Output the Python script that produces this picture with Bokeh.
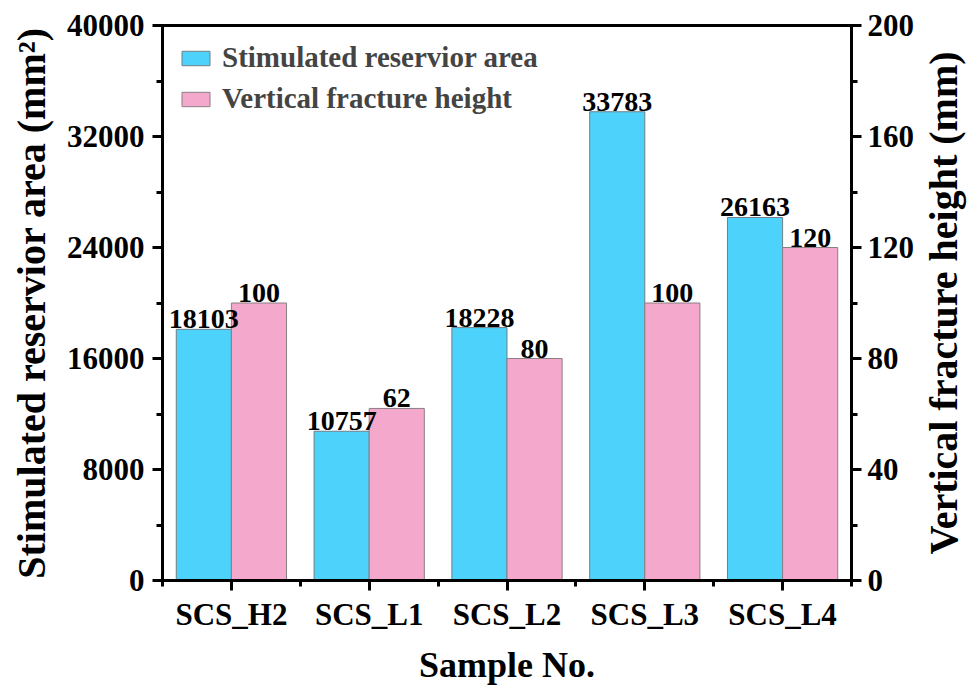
import numpy as np
from bokeh.plotting import figure
from bokeh.layouts import row
from bokeh.models import (Range1d, LinearAxis, SingleIntervalTicker, FixedTicker,
                          ColumnDataSource, Title)
from bokeh.core.properties import value
from bokeh.embed import file_html
from bokeh.resources import INLINE

samples = ["SCS_H2", "SCS_L1", "SCS_L2", "SCS_L3", "SCS_L4"]
area = [18103, 10757, 18228, 33783, 26163]
height = [100, 62, 80, 100, 120]

FONT = "Liberation Serif"
CYAN = "#4DD3FB"
PINK = "#F4A8CB"

idx = np.arange(1, len(samples) + 1)
src_a = ColumnDataSource(dict(x=idx - 0.2, top=area, lab=[str(v) for v in area]))
src_h = ColumnDataSource(dict(x=idx + 0.2, top=height, lab=[str(v) for v in height]))

P_W = 917
p = figure(width=P_W, height=689, output_backend="svg", toolbar_location=None,
           x_range=Range1d(0.5, 5.5), y_range=Range1d(0, 40000),
           min_border_left=162, min_border_right=P_W - 853, min_border_top=25,
           min_border_bottom=109, x_axis_location="below")
p.extra_y_ranges = {"right": Range1d(0, 200)}

p.vbar(x="x", top="top", width=0.4, source=src_a, fill_color=CYAN,
       line_color="#6f7f86", line_width=1, legend_label="Stimulated reservior area")
p.vbar(x="x", top="top", width=0.4, source=src_h, fill_color=PINK,
       line_color="#8a7f84", line_width=1, y_range_name="right",
       legend_label="Vertical fracture height")

p.text(x="x", y="top", text="lab", source=src_a, text_align="center",
       text_baseline="bottom", y_offset=-1, text_font=value(FONT),
       text_font_style="bold", text_font_size="28px", text_color="black")
p.text(x="x", y="top", text="lab", source=src_h, text_align="center",
       text_baseline="bottom", y_offset=-1, text_font=value(FONT),
       text_font_style="bold", text_font_size="28px", text_color="black",
       y_range_name="right")

p.grid.visible = False
p.outline_line_color = "black"
p.outline_line_width = 3
p.background_fill_color = "white"
p.border_fill_color = "white"

raxis = LinearAxis(y_range_name="right")
p.add_layout(raxis, "right")

def style_axis(ax, label_size="36px"):
    ax.axis_line_width = 3
    ax.axis_line_color = "black"
    ax.major_tick_line_width = 3
    ax.minor_tick_line_width = 3
    ax.major_tick_out = 10
    ax.major_tick_in = 0
    ax.minor_tick_out = 6
    ax.minor_tick_in = 0
    ax.major_label_text_font = FONT
    ax.major_label_text_font_style = "bold"
    ax.major_label_text_font_size = "31px"
    ax.major_label_text_color = "black"
    ax.axis_label_text_font = FONT
    ax.axis_label_text_font_style = "bold"
    ax.axis_label_text_font_size = label_size
    ax.axis_label_text_color = "black"

yl = p.yaxis[0]
yl.ticker = SingleIntervalTicker(interval=8000, num_minor_ticks=2)
yl.axis_label = "Stimulated reservior area (mm²)"
style_axis(yl, "40px")
yl.major_label_standoff = 8
yl.axis_label_standoff = 10

raxis.ticker = SingleIntervalTicker(interval=40, num_minor_ticks=2)
style_axis(raxis)
raxis.major_label_standoff = 6

xa = p.xaxis[0]
xa.ticker = FixedTicker(ticks=list(idx.astype(float)),
                        minor_ticks=[i + 0.5 for i in range(0, len(samples) + 1)])
xa.major_label_overrides = {float(i): s for i, s in zip(idx, samples)}
xa.axis_label = "Sample No."
style_axis(xa)
xa.major_label_standoff = 6
xa.axis_label_standoff = 10

lg = p.legend[0]
lg.location = "top_left"
lg.border_line_alpha = 0
lg.background_fill_alpha = 0
lg.label_text_font = FONT
lg.label_text_font_style = "bold"
lg.label_text_font_size = "29px"
lg.glyph_width = 35
lg.glyph_height = 18
lg.label_height = 28
lg.spacing = 8
lg.padding = 8
lg.margin = 8
lg.label_standoff = 9

# narrow companion figure carrying the right-hand axis title (reads bottom-to-top)
p2 = figure(width=967 - P_W, height=689, output_backend="svg", toolbar_location=None,
            min_border_left=48, min_border_right=0, min_border_top=25,
            min_border_bottom=109, x_range=Range1d(0, 1), y_range=Range1d(0, 1))
p2.axis.visible = False
p2.grid.visible = False
p2.outline_line_color = None
p2.background_fill_color = "white"
p2.border_fill_color = "white"
p2.add_layout(Title(text="Vertical fracture height (mm)", align="center",
                    text_font=FONT, text_font_style="bold", text_font_size="40px",
                    text_color="black", standoff=0, offset=0), "left")

layout = row(p, p2, spacing=0)
open("out.html", "w").write(file_html(layout, INLINE))
